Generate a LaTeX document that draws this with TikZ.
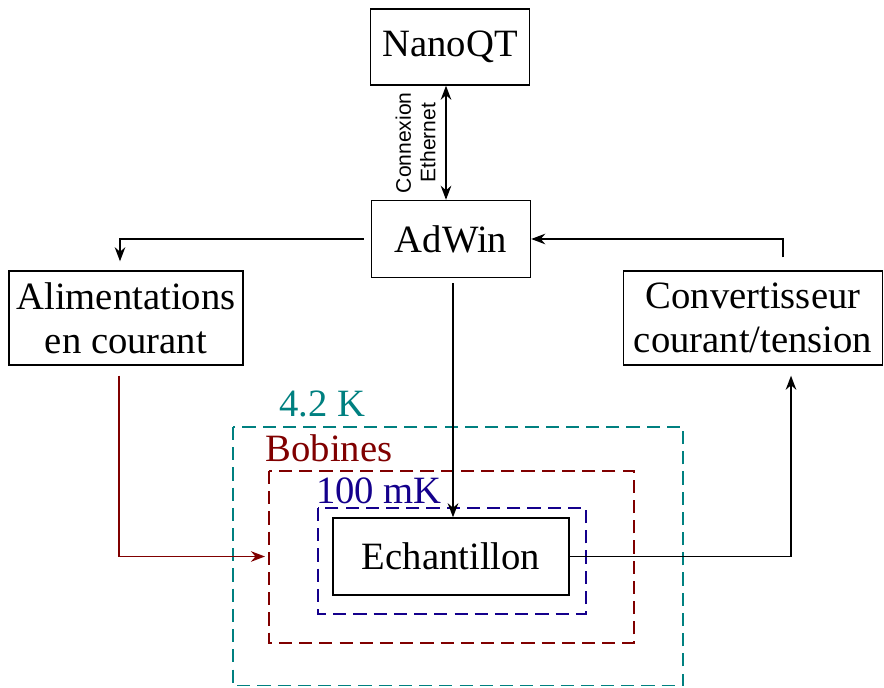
\documentclass[tikz,border=0pt]{standalone}
\usepackage{fontspec}
\setmainfont{Liberation Serif}
\setsansfont{Liberation Sans}
\usepackage{tikz}
\usetikzlibrary{arrows.meta, calc}
\definecolor{cryoteal}{RGB}{0,128,128}
\definecolor{coilred}{RGB}{128,0,0}
\definecolor{mkblue}{RGB}{20,0,140}
\tikzset{
    block/.style={draw, line width=0.8pt, inner sep=0pt, align=center,
        font=\fontsize{22}{25}\selectfont},
    link/.style={line width=1.1pt, -{Stealth[length=8pt,width=6pt]}},
    zone/.style={dashed, dash pattern=on 7.5pt off 4pt, line width=1pt},
    zonelabel/.style={font=\fontsize{22}{25}\selectfont}
}

\begin{document}
\begin{tikzpicture}
            \useasboundingbox (0,0) rectangle (17.68,13.74);

            % blocks
            \node[block, minimum width=3.18cm, minimum height=1.52cm] (nano) at (9.00,12.80) {NanoQT};
            \node[block, minimum width=3.18cm, minimum height=1.54cm] (adwin) at (9.02,8.96) {AdWin};
            \node[block, minimum width=4.68cm, minimum height=1.88cm] (alim) at (2.52,7.38) {Alimentations\\en courant};
            \node[block, minimum width=5.18cm, minimum height=1.88cm] (conv) at (15.06,7.38) {Convertisseur\\courant/tension};
            \node[block, minimum width=4.72cm, minimum height=1.54cm] (ech) at (9.02,2.61) {Echantillon};

            % temperature stages and coils
            \draw[zone, cryoteal] (4.66,5.20) rectangle (13.66,0.03);
            \draw[zone, coilred] (5.38,4.32) rectangle (12.68,0.88);
            \draw[zone, mkblue] (6.36,3.58) rectangle (11.72,1.46);
            \node[zonelabel, text=cryoteal] (lbl42) at (6.44,5.66) {4.2 K};
            \node[zonelabel, text=coilred] (lblbob) at (6.58,4.78) {Bobines};
            \node[zonelabel, text=mkblue] (lblmk) at (7.58,3.92) {100 mK};
            \coordinate (bobwest) at (5.36,2.61);

            % connections
            \draw[link, {Stealth[length=8pt,width=6pt]}-{Stealth[length=8pt,width=6pt]}]
                ([xshift=-0.08cm]nano.south) -- ([xshift=-0.1cm]adwin.north)
                node[midway, left=2pt, rotate=90, anchor=south, align=center,
                     font=\sffamily\fontsize{12}{14}\selectfont] (eth) {Connexion\\Ethernet};
            \draw[link, shorten <=0.14cm, shorten >=0.18cm] (adwin.west) -| ([xshift=-0.12cm]alim.north);
            \draw[link, shorten <=0.26cm] ([xshift=0.6cm]conv.north) |- (adwin.east);
            \draw[link, shorten <=0.1cm] ([xshift=0.04cm]adwin.south) -- ([xshift=0.04cm]ech.north);
            \draw[link, coilred, shorten <=0.2cm, shorten >=0.06cm] ([xshift=-0.14cm]alim.south) |- (bobwest);
            \draw[link, shorten >=0.2cm] (ech.east) -| ([xshift=0.76cm]conv.south);
        \end{tikzpicture}
\end{document}
